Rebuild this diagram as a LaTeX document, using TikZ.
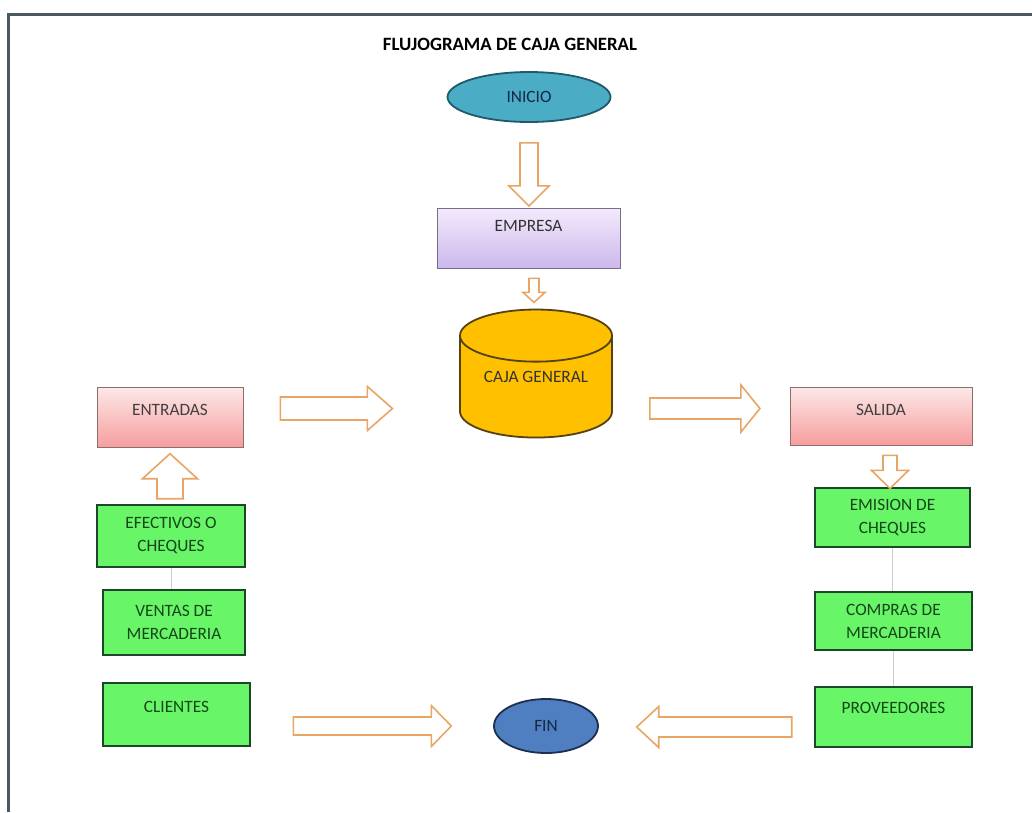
\documentclass[tikz,border=0pt]{standalone}
\usepackage{fontspec}
\setmainfont{Carlito}
\usetikzlibrary{shapes.geometric, calc}

\definecolor{frameline}{RGB}{75,90,98}
\definecolor{iniciofill}{RGB}{75,172,198}
\definecolor{inicioline}{RGB}{31,90,107}
\definecolor{finfill}{RGB}{79,127,192}
\definecolor{finline}{RGB}{28,47,80}
\definecolor{navytext}{RGB}{20,40,70}
\definecolor{lavtop}{RGB}{243,234,252}
\definecolor{lavbot}{RGB}{204,184,236}
\definecolor{lavline}{RGB}{120,110,140}
\definecolor{cajafill}{RGB}{255,192,0}
\definecolor{cajaline}{RGB}{85,65,20}
\definecolor{pinktop}{RGB}{253,232,232}
\definecolor{pinkbot}{RGB}{246,158,158}
\definecolor{pinkline}{RGB}{140,110,110}
\definecolor{greenfill}{RGB}{104,245,104}
\definecolor{greenline}{RGB}{28,72,42}
\definecolor{greentext}{RGB}{20,70,25}
\definecolor{arrowline}{RGB}{232,165,100}
\definecolor{linkgray}{RGB}{205,205,205}

\begin{document}
\begin{tikzpicture}[
    x=1pt, y=-1pt,
    every node/.style={font=\fontsize{17.3}{23}\selectfont},
    lift/.style={text height=11.1pt, text depth=#1},
    oval/.style={ellipse, line width=1.8pt, inner sep=0pt},
    purplebox/.style={rectangle, draw=lavline, line width=0.8pt, top color=lavtop, bottom color=lavbot, text=black!80, inner sep=0pt},
    pinkbox/.style={rectangle, draw=pinkline, line width=0.8pt, top color=pinktop, bottom color=pinkbot, text=black!75, inner sep=0pt},
    greenbox/.style={rectangle, draw=greenline, line width=2.6pt, fill=greenfill, text=greentext, align=center, inner sep=0pt},
    hollow/.style={draw=arrowline, fill=white, line width=1.6pt, line join=miter},
    link/.style={draw=linkgray, line width=1pt},
    pics/blk/.style n args={4}{code={
        \draw[hollow] (0,-#2) -- ({#1-#4},-#2) -- ({#1-#4},-#3) -- (#1,0)
            -- ({#1-#4},#3) -- ({#1-#4},#2) -- (0,#2) -- cycle;
    }},
]
\useasboundingbox (0,0) rectangle (1032,812);
\fill[white] (0,0) rectangle (1032,812);

% Frame
\draw[frameline, line width=3pt] (8,812) -- (8,14) -- (1032,14);

% Title
\node[font=\fontsize{18.8}{22}\selectfont\bfseries] (title) at (510,44) {FLUJOGRAMA DE CAJA GENERAL};

% Centre column
\node[oval, draw=inicioline, fill=iniciofill, text=navytext, minimum width=163, minimum height=50] (inicio) at (529,97) {INICIO};
\node[purplebox, minimum width=183, minimum height=60, lift=24pt] (empresa) at (528.5,238) {EMPRESA};
\node[cylinder, shape border rotate=90, aspect=0.5, draw=cajaline, line width=1.8pt, fill=cajafill, text=black!80,
      minimum width=152, minimum height=128, inner sep=0pt, lift=20pt] (caja) at (536,387) {CAJA GENERAL};

% Left column
\node[pinkbox, minimum width=146, minimum height=60, lift=14pt] (entradas) at (170,417) {ENTRADAS};
\node[greenbox, minimum width=148, minimum height=62] (efectivos) at (171,536) {EFECTIVOS O\\CHEQUES};
\node[greenbox, minimum width=142, minimum height=65] (ventas) at (174,622.5) {VENTAS DE\\MERCADERIA};
\node[greenbox, minimum width=147, minimum height=63, lift=15pt] (clientes) at (176.5,714.5) {CLIENTES};

% Right column
\node[pinkbox, minimum width=182, minimum height=58, lift=12pt] (salida) at (881,416) {SALIDA};
\node[greenbox, minimum width=155, minimum height=59] (emision) at (892.5,517.5) {EMISION DE\\CHEQUES};
\node[greenbox, minimum width=157, minimum height=58] (compras) at (893.5,621) {COMPRAS DE\\MERCADERIA};
\node[greenbox, minimum width=157, minimum height=60, lift=18pt] (proveedores) at (893.5,717) {PROVEEDORES};

% End
\node[oval, draw=finline, fill=finfill, text=navytext, minimum width=104, minimum height=54] (fin) at (546,726) {FIN};

% Block arrows
\pic[rotate=-90] at ($(inicio.south)+(0,20)$) {blk={63}{9}{20}{20}};
\pic[rotate=-90] at ($(empresa.south)+(5.5,10)$) {blk={24}{5}{11}{10}};
\pic at ($(entradas.east)+(37,-8.5)$) {blk={112}{11.5}{22}{25}};
\pic at ($(caja.east)+(37,21.5)$) {blk={110}{10.5}{23.5}{19}};
\pic[rotate=-90] at ($(salida.south)+(9,10)$) {blk={33}{7}{18.5}{18}};
\pic[rotate=90] at ($(efectivos.north)+(-1,-5)$) {blk={45}{13}{27.5}{25}};
\pic at ($(clientes.east)+(42,11.5)$) {blk={158}{9}{20.5}{20}};
\pic[rotate=180] at ($(proveedores.west)+(-22,10)$) {blk={155}{10}{20.5}{22}};

% Thin links between the green boxes
\draw[link] (efectivos.south) -- (efectivos.south |- ventas.north);
\draw[link] ($(ventas.south)+(4,0)$) -- ($(ventas.south)+(4,0)$ |- clientes.north);
\draw[link] (emision.south) -- (emision.south |- compras.north);
\draw[link] (compras.south) -- (compras.south |- proveedores.north);

\end{tikzpicture}
\end{document}
